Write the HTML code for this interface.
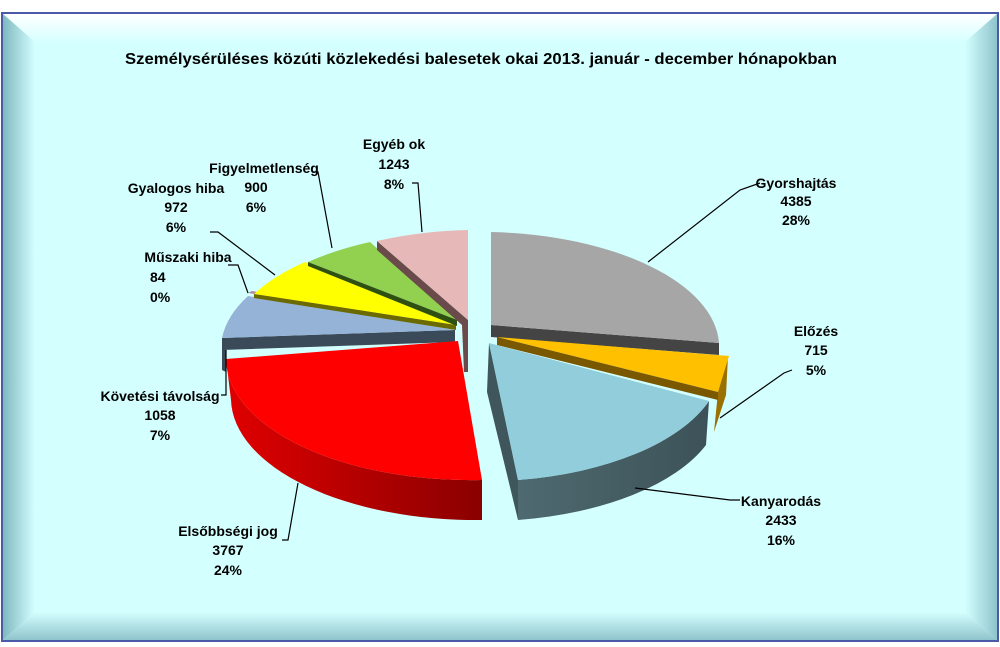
<!DOCTYPE html>
<html><head><meta charset="utf-8"><style>
body{margin:0;width:1000px;height:647px;background:#fff;overflow:hidden}
svg{display:block;font-family:"Liberation Sans",sans-serif}
</style></head><body>
<svg width="1000" height="647" viewBox="0 0 1000 647">
<defs>
<linearGradient id="bt" x1="0" y1="0" x2="0" y2="1"><stop offset="0" stop-color="#ffffff"/><stop offset="1" stop-color="#d6ffff"/></linearGradient>
<linearGradient id="bl" x1="0" y1="0" x2="1" y2="0"><stop offset="0" stop-color="#7fb8c0"/><stop offset="1" stop-color="#d4ffff"/></linearGradient>
<linearGradient id="br" x1="1" y1="0" x2="0" y2="0"><stop offset="0" stop-color="#8fc4cc"/><stop offset="1" stop-color="#d4ffff"/></linearGradient>
<linearGradient id="bb" x1="0" y1="1" x2="0" y2="0"><stop offset="0" stop-color="#8fc4cc"/><stop offset="1" stop-color="#d4ffff"/></linearGradient>
<linearGradient id="rs" x1="0" y1="0" x2="1" y2="0"><stop offset="0" stop-color="#e00000"/><stop offset="1" stop-color="#8a0000"/></linearGradient>
<linearGradient id="ls" x1="0" y1="0" x2="1" y2="0"><stop offset="0" stop-color="#4e6a70"/><stop offset="1" stop-color="#3c5258"/></linearGradient>
</defs>
<rect x="2" y="13" width="996" height="628" fill="#d4ffff" stroke="#4a5aa8" stroke-width="2"/>
<polygon points="3,14 997,14 965,42 35,42" fill="url(#bt)"/>
<polygon points="3,14 35,42 35,612 3,640" fill="url(#bl)"/>
<polygon points="997,14 965,42 965,612 997,640" fill="url(#br)"/>
<polygon points="3,640 35,612 965,612 997,640" fill="url(#bb)"/>
<text x="481" y="64" text-anchor="middle" font-size="16" font-weight="bold" textLength="712" lengthAdjust="spacingAndGlyphs">Személysérüléses közúti közlekedési balesetek okai 2013. január - december hónapokban</text>

<!-- Gray -->
<path d="M491,325 L719,343 L719,355 L491,337 Z" fill="#444"/>
<path d="M491,232 A240,115 0 0 1 719,343 L491,325 Z" fill="#a6a6a6"/>
<!-- Orange -->
<path d="M718,392 L728,356 L726,395 L714,432 Z" fill="#9a7000"/>
<path d="M497,337 L729,356 L718,392 Z" fill="#ffc000"/>
<path d="M497,337 L718,392 L718,400 L497,345 Z" fill="#7a5800"/>
<!-- Light blue -->
<path d="M489,343 L518,480 L518,520 L487,392 Z" fill="#3f575c"/>
<path d="M518,480 A240,118 0 0 0 709,401 L706,445 A240,118 0 0 1 518,520 Z" fill="url(#ls)"/>
<path d="M489,343 L709,401 A240,118 0 0 1 518,480 Z" fill="#92cddc"/>
<!-- Blue-gray -->
<path d="M222,338 L455,330 L455,342 L222,350 Z" fill="#3a4a58"/>
<path d="M455,330 L222,338 A240,115 0 0 1 248,296 Z" fill="#95b3d7"/>
<path d="M222,338 L222,370 L226,372 L226,350 Z" fill="#3a4a58"/>
<!-- Red -->
<path d="M226,359 A245,122 0 0 0 482,480 L482,520 A245,122 0 0 1 231,400 Z" fill="url(#rs)"/>
<path d="M458,341 L482,480 A245,122 0 0 1 226,359 Z" fill="#ff0000"/>
<!-- Mauve -->
<path d="M456,327 L248,293 L252,291 Z" fill="#b08aa0"/>
<!-- Yellow -->
<path d="M456,325 L254,294 A240,115 0 0 1 305,262 Z" fill="#ffff00"/>
<path d="M456,325 L254,294 L254,298 L456,330 Z" fill="#6a6a00"/>
<!-- Green -->
<path d="M457,320 L308,262 A240,115 0 0 1 370,242 Z" fill="#92d050"/>
<path d="M457,320 L308,262 L308,266 L457,326 Z" fill="#2e5010"/>
<!-- Pink -->
<path d="M377,241 L468,320 L468,372 L464,372 L462,325 L377,250 Z" fill="#6a4a4a"/>
<path d="M468,230 L468,320 L377,241 A240,115 0 0 1 468,230 Z" fill="#e6b9b8"/>

<g stroke="#000" stroke-width="1.2" fill="none">
<polyline points="760,183 740,190 648,262"/>
<polyline points="792,370 784,373 720,418"/>
<polyline points="740,500 730,500 635,488"/>
<polyline points="282,540 288,540 298,483"/>
<polyline points="221,395 226,395 226,350"/>
<polyline points="228,265 238,265 248,293"/>
<polyline points="210,232 218,232 275,275"/>
<polyline points="313,172 318,172 332,248"/>
<polyline points="412,183 418,183 422,232"/>
</g>
<g font-size="14" font-weight="bold" text-anchor="middle">
<text x="796" y="188">Gyorshajtás</text><text x="796" y="206">4385</text><text x="796" y="225">28%</text>
<text x="816" y="336">Előzés</text><text x="816" y="355">715</text><text x="816" y="375">5%</text>
<text x="781" y="506">Kanyarodás</text><text x="781" y="525">2433</text><text x="781" y="545">16%</text>
<text x="228" y="536">Elsőbbségi jog</text><text x="228" y="555">3767</text><text x="228" y="575">24%</text>
<text x="160" y="401">Követési távolság</text><text x="160" y="420">1058</text><text x="160" y="440">7%</text>
<text x="188" y="262">Műszaki hiba</text><text x="150" y="282" text-anchor="start">84</text><text x="150" y="302" text-anchor="start">0%</text>
<text x="176" y="193">Gyalogos hiba</text><text x="176" y="212">972</text><text x="176" y="232">6%</text>
<text x="264" y="173">Figyelmetlenség</text><text x="256" y="192">900</text><text x="256" y="212">6%</text>
<text x="394" y="149">Egyéb ok</text><text x="394" y="169">1243</text><text x="394" y="189">8%</text>
</g>
</svg>
</body></html>
